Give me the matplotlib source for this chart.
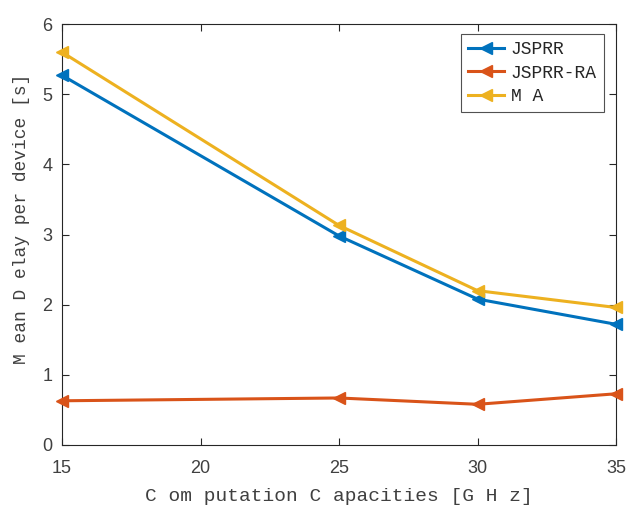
import matplotlib
matplotlib.use("Agg")
import matplotlib.pyplot as plt

capacities = [15, 25, 30, 35]
jsprr = [5.27, 2.98, 2.08, 1.72]
jsprr_ra = [0.63, 0.67, 0.58, 0.73]
ma = [5.60, 3.13, 2.20, 1.96]

series = [
    ("JSPRR", jsprr, "#0072BD"),
    ("JSPRR-RA", jsprr_ra, "#D95319"),
    ("M A", ma, "#EDB120"),
]

plt.rcParams["font.family"] = ["Liberation Mono", "DejaVu Sans Mono"]

fig = plt.figure(figsize=(6.28, 5.13), dpi=100)
ax = fig.add_axes([0.0987, 0.1326, 0.8823, 0.8204])

for name, vals, col in series:
    ax.plot(capacities, vals, color=col, lw=2.2, marker="<", ms=8,
            markerfacecolor=col, markeredgecolor=col, label=name,
            clip_on=False, zorder=3)

ax.set_xlim(15, 35)
ax.set_ylim(0, 6)
ax.set_xticks([15, 20, 25, 30, 35])
ax.set_yticks(range(0, 7))
ax.tick_params(direction="in", top=True, right=True, length=5, width=0.8,
               colors="#262626", labelsize=13, labelcolor="#404040")
ax.tick_params(axis="x", pad=11)
ax.tick_params(axis="y", pad=7)
for lab in ax.get_xticklabels() + ax.get_yticklabels():
    lab.set_fontfamily(["Liberation Sans", "DejaVu Sans"])
for s in ax.spines.values():
    s.set_color("#262626")
    s.set_linewidth(0.8)

ax.set_xlabel("C om putation C apacities [G H z]", fontsize=14,
              color="#404040", labelpad=8)
ax.set_ylabel("M ean D elay per device [s]", fontsize=13,
              color="#404040", labelpad=8)
ax.yaxis.set_label_coords(-0.058, 0.537)

leg = ax.legend(loc="upper right", fontsize=13, frameon=True, fancybox=False,
                edgecolor="#262626", handlelength=2.0, handletextpad=0.35,
                borderpad=0.4, labelspacing=0.35, borderaxespad=0,
                bbox_to_anchor=(0.978, 0.976))
leg.get_frame().set_linewidth(0.8)
for t in leg.get_texts():
    t.set_color("#262626")

fig.savefig("out.png", dpi=100)
